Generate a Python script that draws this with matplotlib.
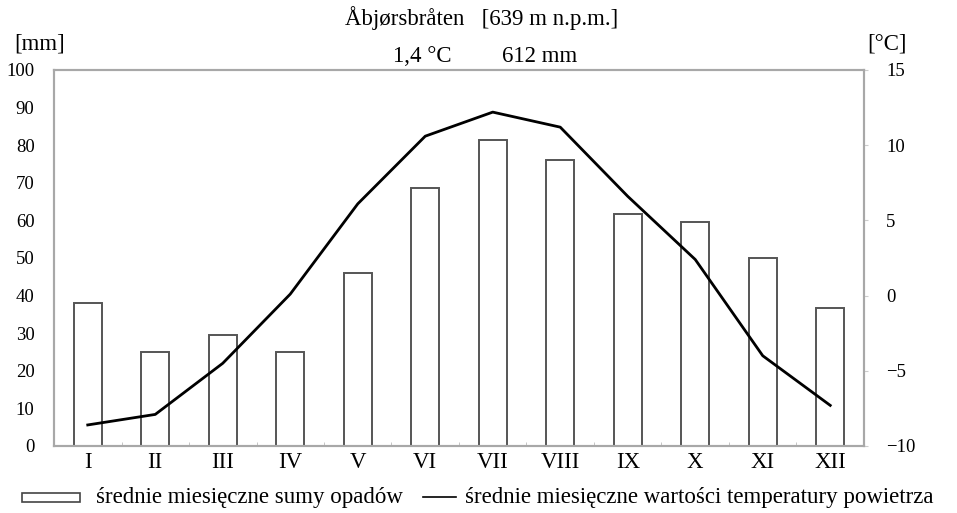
import matplotlib
matplotlib.use("Agg")
import matplotlib.pyplot as plt
from matplotlib.patches import Rectangle
from matplotlib.lines import Line2D

plt.rcParams['font.family'] = ['Liberation Serif', 'DejaVu Serif']

months = ["I", "II", "III", "IV", "V", "VI", "VII", "VIII", "IX", "X", "XI", "XII"]
precip_mm = [38, 25, 29.5, 25, 46, 68.7, 81.5, 76, 61.7, 59.7, 49.9, 36.7]
temp_c = [-8.6, -7.9, -4.5, 0.1, 6.1, 10.6, 12.2, 11.2, 6.6, 2.4, -4.0, -7.3]

title = "Åbjørsbråten   [639 m n.p.m.]"
mean_temp_label = "1,4 °C"
sum_precip_label = "612 mm"
legend_bar = "średnie miesięczne sumy opadów"
legend_line = "średnie miesięczne wartości temperatury powietrza"

W, H = 957, 513
fig = plt.figure(figsize=(W / 100, H / 100), dpi=100)
ax = fig.add_axes([54 / W, 1 - 446 / H, 810 / W, 376 / H])
ax2 = ax.twinx()

x = list(range(len(months)))
ax.bar(x, precip_mm, width=0.41, facecolor="white", edgecolor="#555555", linewidth=1.4, zorder=2)
ax2.plot(x, temp_c, color="black", linewidth=2.0, zorder=3)

ax.set_xlim(-0.5, len(months) - 0.5)
ax.set_ylim(0, 100)
ax2.set_ylim(-10, 15)
ax.set_yticks(range(0, 101, 10))
ax2.set_yticks(range(-10, 16, 5))
ax2.set_yticklabels([("−" + str(-v)) if v < 0 else str(v) for v in range(-10, 16, 5)])

ax.set_xticks(x)
ax.set_xticklabels(months)
ax.set_xticks([i + 0.5 for i in range(-1, len(months))], minor=True)

fs = 16.5
fs_tick = 13.5
ax.tick_params(axis="x", which="major", length=0, pad=4, labelsize=fs)
ax.tick_params(axis="x", which="minor", length=3, direction="in", color="#bbbbbb")
ax.tick_params(axis="y", length=0, pad=14, labelsize=fs_tick)
ax2.tick_params(axis="y", length=3, direction="out", color="#cccccc", pad=13, labelsize=fs_tick)

for a in (ax, ax2):
    for s in a.spines.values():
        s.set_color("#a8a8a8")
        s.set_linewidth(1.5)

fig.text(482 / W, 1 - 18 / H, title, ha="center", va="center", fontsize=fs)
fig.text(422 / W, 1 - 57 / H, mean_temp_label, ha="center", va="center", fontsize=fs)
fig.text(540 / W, 1 - 57 / H, sum_precip_label, ha="center", va="center", fontsize=fs)
fig.text(40 / W, 1 - 44 / H, "[mm]", ha="center", va="center", fontsize=fs)
fig.text(887 / W, 1 - 44 / H, "[°C]", ha="center", va="center", fontsize=fs)

# legend
fig.patches.append(Rectangle((22 / W, 1 - 502 / H), 58 / W, 9 / H, transform=fig.transFigure,
                             facecolor="white", edgecolor="#444444", linewidth=1.2))
fig.text(96 / W, 1 - 497 / H, legend_bar, ha="left", va="center", fontsize=fs)
fig.lines.append(Line2D([423 / W, 456 / W], [1 - 497 / H, 1 - 497 / H], transform=fig.transFigure,
                        color="black", linewidth=1.2))
fig.text(465 / W, 1 - 497 / H, legend_line, ha="left", va="center", fontsize=fs)

fig.savefig("out.png", dpi=100)
